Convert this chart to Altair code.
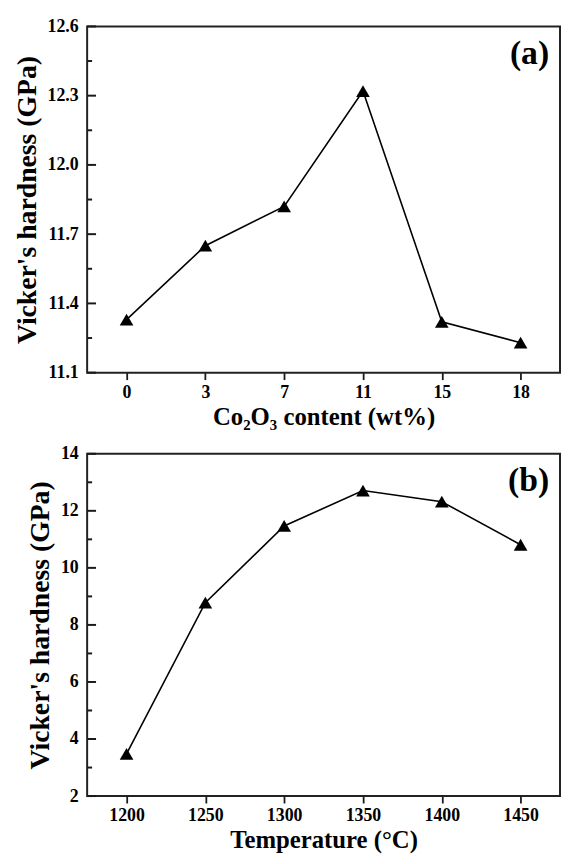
import altair as alt
import pandas as pd

# ---- data ----
co_content = ["0", "3", "7", "11", "15", "18"]
hardness_a = [11.33, 11.65, 11.82, 12.32, 11.32, 11.23]

temperature = [1200, 1250, 1300, 1350, 1400, 1450]
hardness_b = [3.48, 8.78, 11.47, 12.71, 12.32, 10.81]

y_major_a = [11.1, 11.4, 11.7, 12.0, 12.3, 12.6]
y_minor_a = [11.25, 11.55, 11.85, 12.15, 12.45]
y_major_b = [2, 4, 6, 8, 10, 12, 14]
y_minor_b = [3, 5, 7, 9, 11, 13]
x_ticks_b = [1200, 1250, 1300, 1350, 1400, 1450]
panel_labels = ["(a)", "(b)"]

FONT = "Liberation Serif"
W = 478
HA = 350
HB = 346

df_a = pd.DataFrame({"x": co_content, "v": hardness_a})
df_b = pd.DataFrame({"x": temperature, "v": hardness_b})

ytitle = "Vicker's hardness (GPa)"


def yticks(values, scale, axis, length):
    d = pd.DataFrame({"v": values})
    return alt.Chart(d).mark_rule(color="#1a1a1a", strokeWidth=2).encode(
        y=alt.Y("v:Q", scale=scale, axis=axis),
        x=alt.value(0),
        x2=alt.value(length),
    )


def label(text):
    d = pd.DataFrame({"t": [text]})
    return alt.Chart(d).mark_text(
        font=FONT, fontWeight="bold", fontSize=34, align="right",
        baseline="middle", color="black"
    ).encode(text="t:N", x=alt.value(W - 11), y=alt.value(28))


# ---- panel (a) ----
ya = alt.Scale(domain=[11.1, 12.6], nice=False, zero=False)
xa = alt.Scale(type="point", padding=0.5)
axis_ya = alt.Axis(title=ytitle, values=y_major_a, format=".1f",
                   ticks=False, titleFontSize=28)
enc_a = dict(
    x=alt.X("x:N", scale=xa, sort=co_content,
            axis=alt.Axis(title="Co₂O₃ content (wt%)", labelAngle=0)),
    y=alt.Y("v:Q", scale=ya, axis=axis_ya),
)
line_a = alt.Chart(df_a).mark_line(color="black", strokeWidth=1.6).encode(**enc_a)
pts_a = alt.Chart(df_a).mark_point(shape="triangle-up", size=190, filled=True,
                                   color="black", opacity=1).encode(**enc_a)
panel_a = alt.layer(
    line_a, pts_a,
    yticks(y_major_a, ya, axis_ya, 9), yticks(y_minor_a, ya, axis_ya, 5),
    label(panel_labels[0]),
).properties(width=W, height=HA)

# ---- panel (b) ----
yb = alt.Scale(domain=[2, 14], nice=False, zero=False)
xb = alt.Scale(domain=[1175, 1475], nice=False, zero=False)
axis_yb = alt.Axis(title=ytitle, values=y_major_b, format="d",
                   ticks=False, titleFontSize=28)
enc_b = dict(
    x=alt.X("x:Q", scale=xb,
            axis=alt.Axis(title="Temperature (°C)", values=x_ticks_b, format="d")),
    y=alt.Y("v:Q", scale=yb, axis=axis_yb),
)
line_b = alt.Chart(df_b).mark_line(color="black", strokeWidth=1.6).encode(**enc_b)
pts_b = alt.Chart(df_b).mark_point(shape="triangle-up", size=190, filled=True,
                                   color="black", opacity=1).encode(**enc_b)
panel_b = alt.layer(
    line_b, pts_b,
    yticks(y_major_b, yb, axis_yb, 9), yticks(y_minor_b, yb, axis_yb, 5),
    label(panel_labels[1]),
).properties(width=W, height=HB)

chart = alt.vconcat(panel_a, panel_b, spacing=14).properties(
    padding={"left": 4, "top": 4, "right": 0, "bottom": 0}
).configure_view(
    stroke="#222", strokeWidth=2
).configure_axis(
    labelFont=FONT, titleFont=FONT, labelFontWeight="bold", titleFontWeight="bold",
    labelFontSize=18, titleFontSize=25, labelColor="black", titleColor="black",
    domain=False, grid=False, tickColor="#1a1a1a", tickWidth=1.8, tickSize=7,
    labelPadding=4, titlePadding=3,
).configure_axisY(
    labelPadding=9, titlePadding=6,
)

chart.save("out.html", embed_options={"renderer": "svg", "actions": False})
